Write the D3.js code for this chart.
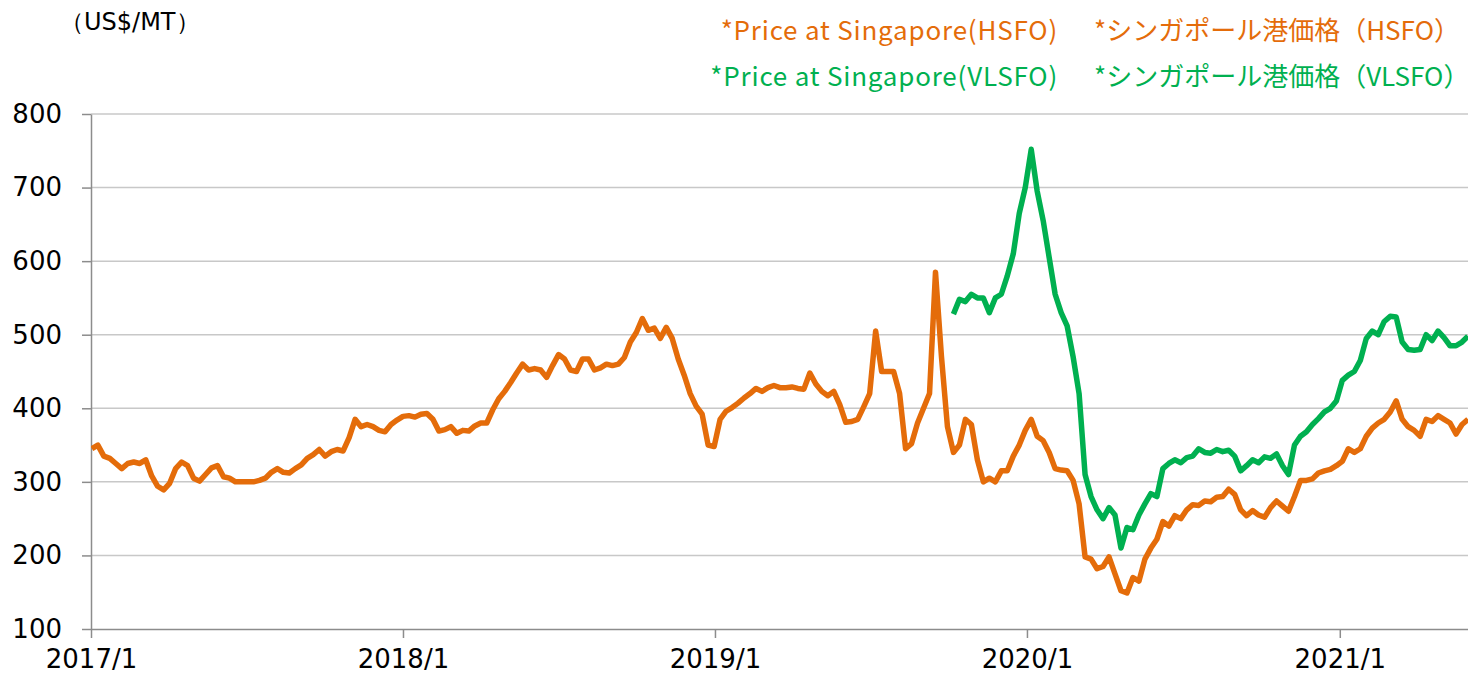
<!DOCTYPE html>
<meta charset="utf-8">
<style>
body { margin: 0; background: #fff; }
svg text { font-family: "DejaVu Sans", Verdana, sans-serif; fill: #000; }
.grid line { stroke: #C8C8C8; stroke-width: 1.5; }
.axis path, .axis line { stroke: #8C8C8C; stroke-width: 1.5; }
.legend text { font-family: "Noto Sans CJK JP", "Noto Sans", sans-serif; font-size: 26px; }
</style>
<body>
<svg width="1468" height="678"></svg>
<script src="https://cdn.jsdelivr.net/npm/d3@7"></script>
<script>

// weekly samples, first one on 2017-01-02
var startDate = "2017-01-02";

var hsfo = [
  345, 350, 335, 332, 325, 318, 325, 327, 325, 330,
  308, 294, 289, 298, 318, 327, 322, 305, 301, 310,
  319, 322, 307, 305, 300, 300, 300, 300, 302, 305,
  313, 318, 313, 312, 318, 323, 332, 337, 344, 335,
  341, 344, 342, 360, 385, 375, 378, 375, 370, 368,
  378, 384, 389, 390, 388, 392, 393, 385, 369, 371,
  375, 366, 370, 369, 376, 380, 380, 398, 413, 423,
  435, 448, 460, 452, 454, 452, 442, 458, 473, 467,
  452, 450, 467, 467, 452, 455, 460, 458, 460, 469,
  490, 503, 522, 506, 509, 495, 510, 495, 467, 445,
  420, 403, 392, 350, 348, 385, 396, 401, 407, 414,
  420, 427, 423, 428, 431, 428, 428, 429, 427, 426,
  448, 433, 423, 417, 423, 405, 381, 382, 385, 402,
  420, 505, 450, 450, 450, 420, 345, 352, 380, 400,
  420, 585, 470, 375, 340, 350, 385, 378, 330, 300,
  305, 300, 315, 315, 335, 350, 370, 385, 362, 356,
  340, 318, 316, 315, 302, 270, 198, 195, 182, 185,
  198, 175, 152, 149, 170, 165, 195, 210, 222, 246,
  240, 254, 250, 262, 269, 268, 274, 273, 279, 280,
  290, 283, 262, 254, 261, 255, 252, 265, 274, 267,
  260, 280, 302, 302, 304, 312, 315, 317, 322, 328,
  345, 340, 345, 362, 373, 380, 385, 395, 410, 385,
  375, 370, 362, 385, 382, 390, 385, 380, 365, 378,
  385
];

// VLSFO begins 144 weeks after startDate
var vlsfoStartWeek = 144;
var vlsfo = [
  528, 548, 545, 555, 550, 550, 530, 550, 555, 580,
  610, 665, 700, 752, 695, 655, 605, 555, 530, 512,
  470, 420, 310, 280, 262, 250, 265, 255, 210, 238,
  235, 255, 270, 284, 280, 318, 325, 330, 326, 333,
  335, 345, 340, 339, 344, 341, 343, 335, 315, 322,
  330, 326, 334, 332, 338, 322, 310, 350, 362, 368,
  378, 386, 395, 400, 410, 438, 445, 450, 465, 495,
  505, 500, 518, 525, 524, 490, 480, 479, 480, 500,
  492, 505, 496, 485, 485, 490, 498
];

var yTicks = [100, 200, 300, 400, 500, 600, 700, 800];
var xTicks = ["2017-01-01", "2018-01-01", "2019-01-01", "2020-01-01", "2021-01-01"];

var legendRows = [
  {en: "*Price at Singapore(HSFO)", ja: "*シンガポール港価格（HSFO）", color: "#E46C0A"},
  {en: "*Price at Singapore(VLSFO)", ja: "*シンガポール港価格（VLSFO）", color: "#00B050"}
];

var parse = d3.timeParse("%Y-%m-%d");
var t0 = parse(startDate);

var svg = d3.select("svg"),
    margin = {top: 114, right: 0, bottom: 49, left: 91},
    width = +svg.attr("width") - margin.left - margin.right,
    height = +svg.attr("height") - margin.top - margin.bottom,
    g = svg.append("g").attr("transform", "translate(" + margin.left + "," + margin.top + ")");

var x = d3.scaleTime()
    .domain([parse("2017-01-01"), parse("2021-05-31")])
    .range([0, width]);

var y = d3.scaleLinear()
    .domain([100, 800])
    .range([height, 0]);

var hsfoData = hsfo.map(function(v, i) { return {date: d3.timeDay.offset(t0, i * 7), value: v}; });
var vlsfoData = vlsfo.map(function(v, i) { return {date: d3.timeDay.offset(t0, (i + vlsfoStartWeek) * 7), value: v}; });

// gridlines
g.append("g")
    .attr("class", "grid")
    .selectAll("line")
    .data(yTicks.slice(1))
  .enter().append("line")
    .attr("x1", 0)
    .attr("x2", width)
    .attr("y1", function(d) { return y(d); })
    .attr("y2", function(d) { return y(d); });

var yAxis = g.append("g")
    .attr("class", "axis axis--y")
    .call(d3.axisLeft(y)
      .tickValues(yTicks)
      .tickSizeInner(9)
      .tickSizeOuter(0)
      .tickPadding(20));

yAxis.selectAll("text")
    .style("font-size", "26px")
    .style("font-family", "DejaVu Sans");

var xAxis = g.append("g")
    .attr("class", "axis axis--x")
    .attr("transform", "translate(0," + height + ")")
    .call(d3.axisBottom(x)
      .tickValues(xTicks.map(parse))
      .tickFormat(d3.timeFormat("%Y/%-m"))
      .tickSizeInner(9)
      .tickSizeOuter(0)
      .tickPadding(12));

xAxis.selectAll("text")
    .style("font-size", "26px")
    .style("font-family", "DejaVu Sans");

var line = d3.line()
    .x(function(d) { return x(d.date); })
    .y(function(d) { return y(d.value); });

svg.append("clipPath").attr("id", "clip")
  .append("rect").attr("x", 0).attr("y", -10).attr("width", width).attr("height", height + 20);

g.append("path")
    .datum(hsfoData)
    .attr("clip-path", "url(#clip)")
    .attr("fill", "none")
    .attr("stroke", legendRows[0].color)
    .attr("stroke-width", 5.5)
    .attr("stroke-linejoin", "round")
    .attr("d", line);

g.append("path")
    .datum(vlsfoData)
    .attr("clip-path", "url(#clip)")
    .attr("fill", "none")
    .attr("stroke", legendRows[1].color)
    .attr("stroke-width", 5.5)
    .attr("stroke-linejoin", "round")
    .attr("d", line);

// unit label
svg.append("text")
    .attr("x", 60)
    .attr("y", 30)
    .style("font-size", "24px")
    .text("（US$/MT）");

var legend = svg.append("g").attr("class", "legend");

legendRows.forEach(function(r, i) {
  var yy = 40 + i * 46;
  legend.append("text")
      .attr("x", 1058)
      .attr("y", yy)
      .attr("text-anchor", "end")
      .style("letter-spacing", "0.8px")
      .style("fill", r.color)
      .text(r.en);
  legend.append("text")
      .attr("x", 1094)
      .attr("y", yy)
      .style("fill", r.color)
      .text(r.ja);
});

</script>
</body>
